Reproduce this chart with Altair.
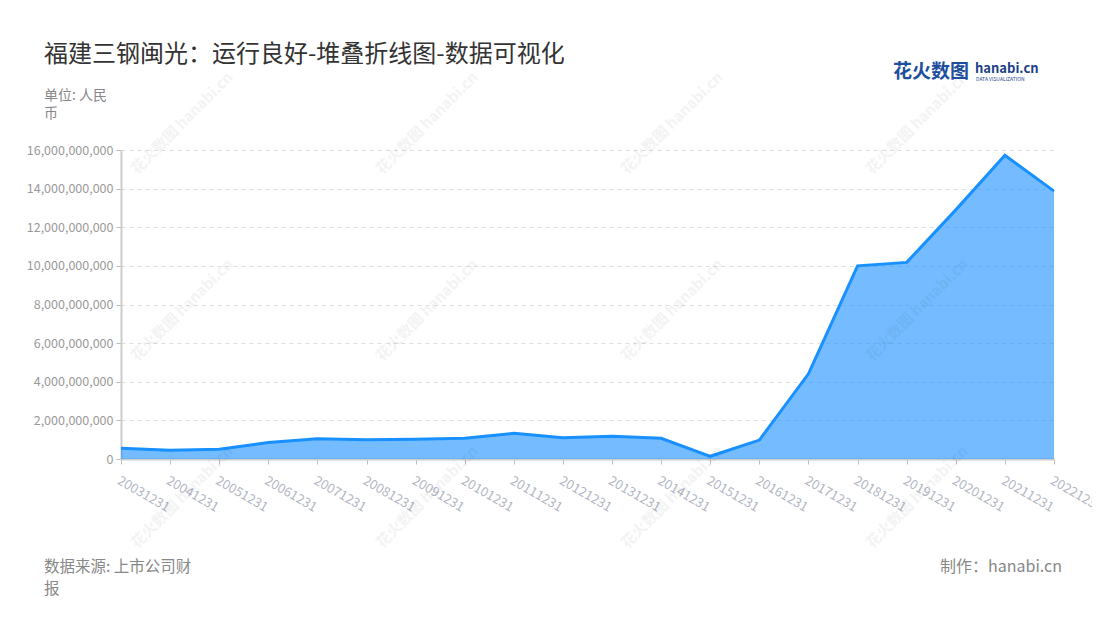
import altair as alt
import pandas as pd

# ---- data ----
dates = ["20031231", "20041231", "20051231", "20061231", "20071231",
         "20081231", "20091231", "20101231", "20111231", "20121231",
         "20131231", "20141231", "20151231", "20161231", "20171231",
         "20181231", "20191231", "20201231", "20211231", "20221231"]
values = [0.56e9, 0.45e9, 0.50e9, 0.85e9, 1.05e9,
          1.00e9, 1.02e9, 1.08e9, 1.33e9, 1.10e9,
          1.18e9, 1.07e9, 0.14e9, 0.98e9, 4.41e9,
          10.00e9, 10.18e9, 12.90e9, 15.73e9, 13.87e9]
y_ticks = [0, 2e9, 4e9, 6e9, 8e9, 10e9, 12e9, 14e9, 16e9]

title_text = "福建三钢闽光：运行良好-堆叠折线图-数据可视化"
unit_lines = ["单位: 人民", "币"]
source_lines = ["数据来源: 上市公司财", "报"]
maker_text = "制作：hanabi.cn"
watermark_text = "花火数图 hanabi.cn"

df = pd.DataFrame({"date": dates, "value": values})

FONT = "Noto Sans CJK SC"
W, H = 933, 309

x_enc = alt.X("date:N", sort=dates,
              scale=alt.Scale(type="point", padding=0),
              axis=alt.Axis(title=None, labelAngle=30, labelAlign="left",
                            labelBaseline="top", labelColor="#b2b6c4",
                            labelFontSize=13, labelPadding=10,
                            domainColor="#cccccc", domainWidth=2,
                            tickColor="#bbbbbb", tickSize=5, grid=False,
                            labelOverlap=False))
y_enc = alt.Y("value:Q",
              scale=alt.Scale(domain=[0, 16e9], nice=False),
              axis=alt.Axis(title=None, values=y_ticks, format=",d",
                            labelColor="#999999", labelFontSize=12.5,
                            labelPadding=3,
                            domainColor="#cccccc", domainWidth=2,
                            tickColor="#bbbbbb", tickSize=5,
                            grid=True, gridColor="#dddddd",
                            gridDash=[4, 4], gridWidth=1))

base = alt.Chart(df)
area = base.mark_area(color="#1890ff", opacity=0.6).encode(x=x_enc, y=y_enc)
line = base.mark_line(color="#1890ff", strokeWidth=3).encode(x=x_enc, y=y_enc)

one = alt.Data(values=[{"a": 1}])


def txt(text, x, y, size, color, align="left", weight="normal",
        baseline="middle", angle=0, opacity=1):
    return alt.Chart(one).mark_text(
        text=text, align=align, baseline=baseline, fontSize=size,
        color=color, font=FONT, fontWeight=weight, angle=angle,
        opacity=opacity
    ).encode(x=alt.value(x), y=alt.value(y))


# decorative watermark grid (offsets relative to plot origin)
wm_x = [61, 306, 551, 796]
wm_y = [-27, 160, 347]
watermarks = [txt(watermark_text, x, y, 15, "#000000", align="center",
                  angle=315, opacity=0.045, weight="bold")
              for x in wm_x for y in wm_y]

texts = [
    txt(title_text, -77, -95, 24, "#333333"),
    txt(unit_lines[0], -77, -54, 14, "#888888"),
    txt(unit_lines[1], -77, -36, 14, "#888888"),
    txt(source_lines[0], -77, 417, 15.5, "#888888"),
    txt(source_lines[1], -77, 439, 15.5, "#888888"),
    txt(maker_text, 941, 417, 16, "#888888", align="right"),
    # logo
    txt("花火数图", 772, -78, 19, "#1d4f9e", weight="bold"),
    txt("hanabi.cn", 854, -81, 13, "#1d3f8a", weight="bold"),
    txt("DATA VISUALIZATION", 855, -71, 5, "#1d3f8a"),
]

chart = alt.layer(area, line, *watermarks, *texts).properties(
    width=W, height=H,
    autosize=alt.AutoSizeParams(type="none"),
    padding={"left": 113, "top": 142, "right": 38, "bottom": 153},
    background="white",
).configure_view(stroke=None).configure_axis(labelFont=FONT)

chart.save("out.html", embed_options={"renderer": "svg", "actions": False})
